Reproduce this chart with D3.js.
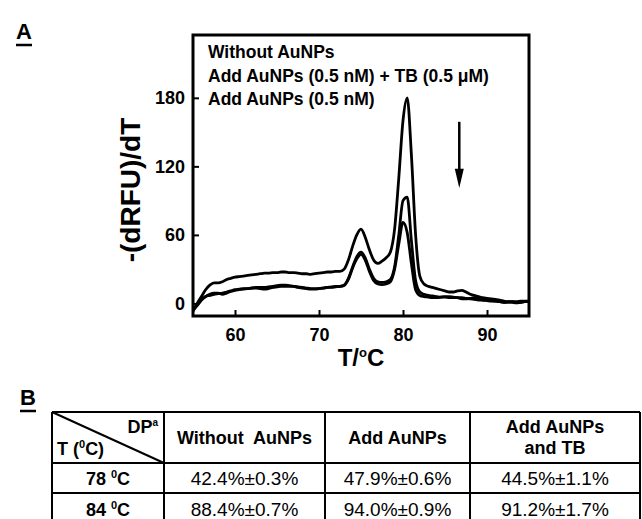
<!DOCTYPE html>
<html>
<head>
<meta charset="utf-8">
<script src="https://cdn.jsdelivr.net/npm/d3@7"></script>
<style>
  body { margin: 0; background: #fff; }
  svg { display: block; font-family: "Liberation Sans", Arial, sans-serif; }
  .bold { font-weight: bold; }
</style>
</head>
<body>
<svg id="fig" width="642" height="519"></svg>
<script>
// Melt curve samples (T in degC, every 0.5 degC)
const temps = [
  55, 55.5, 56, 56.5, 57, 57.5, 58, 58.5, 59, 59.5,
  60, 60.5, 61, 61.5, 62, 62.5, 63, 63.5, 64, 64.5,
  65, 65.5, 66, 66.5, 67, 67.5, 68, 68.5, 69, 69.5,
  70, 70.5, 71, 71.5, 72, 72.5, 73, 73.5, 74, 74.5,
  75, 75.5, 76, 76.5, 77, 77.5, 78, 78.5, 79, 79.5,
  80, 80.5, 81, 81.5, 82, 82.5, 83, 83.5, 84, 84.5,
  85, 85.5, 86, 86.5, 87, 87.5, 88, 88.5, 89, 89.5,
  90, 90.5, 91, 91.5, 92, 92.5, 93, 93.5, 94, 94.5,
  95
];

// -(dRFU)/dT for each condition
const withoutAuNPs = [
  -7, 0, 6, 12, 16, 18, 18, 19, 21, 22,
  23, 23.5, 24, 24.5, 25, 25.5, 26, 26.5, 26.5, 27,
  27, 27.5, 27.5, 27, 27, 26.5, 26, 26, 25.5, 26,
  26.5, 27, 27.5, 27.5, 28, 28, 30, 38, 50, 60,
  65, 58, 47, 38, 35, 37, 40, 45, 65, 110,
  160, 180, 130, 60, 24, 17, 15, 14, 13, 12,
  11, 10, 10, 11, 11.5, 10, 8, 7, 6, 5,
  4.5, 4, 3.5, 3, 2, 1.5, 1.5, 1, 1, 1.5,
  2
];

const addAuNPsTB = [
  -6, -2, 3, 6, 7, 8, 8.5, 9, 10, 11,
  12, 12.5, 13, 13, 13.5, 13.5, 13, 12.5, 13, 14,
  14.5, 15, 15, 15, 15, 14.5, 14, 13.5, 13, 13,
  13, 13.5, 14, 14.5, 15, 15, 16, 22, 32, 41,
  45, 40, 30, 22, 19, 18.5, 19, 21, 32, 60,
  90, 93, 55, 20, 10, 8, 7, 6.5, 6, 5.5,
  5.5, 5, 5, 5, 5, 4.5, 4, 3.5, 3, 3,
  3, 2.5, 2, 1.5, 1, 1.5, 1, 0.5, 1, 1.5,
  1.5
];

const addAuNPs = [
  -5, -1, 3, 6, 8, 9, 9, 8, 9, 10.5,
  11.5, 12, 12.5, 13, 13.5, 14, 14, 14, 14.5, 15,
  15.5, 16, 16, 15.5, 15, 14, 13.5, 13, 12.5, 12.5,
  13, 13.5, 14, 14, 14.5, 15, 16, 21, 31, 39,
  43, 38, 28, 20, 17, 16.5, 17, 19, 30, 52,
  71, 62, 35, 12, 7, 6, 5.5, 5, 5, 5.5,
  6, 6, 5.5, 5, 4, 4, 4.5, 5, 4, 3,
  2.5, 2, 2, 1.5, 1, 1, 1.5, 1.5, 2, 2,
  2
];

const legendLabels = ['Without AuNPs', 'Add AuNPs (0.5 nM) + TB (0.5 \u03bcM)', 'Add AuNPs (0.5 nM)'];
const xTicks = [60, 70, 80, 90];
const yTicks = [0, 60, 120, 180];

// Table B
const tableHeaders = [['Without  AuNPs'], ['Add AuNPs'], ['Add AuNPs', 'and TB']];
const tableTemps = ['78 ', '84 '];
const dp78 = ['42.4%\u00b10.3%', '47.9%\u00b10.6%', '44.5%\u00b11.1%'];
const dp84 = ['88.4%\u00b10.7%', '94.0%\u00b10.9%', '91.2%\u00b11.7%'];

const svg = d3.select('#fig');

// ---------- Panel A ----------
const margin = { top: 35, left: 193 };
const width = 336;
const height = 281;

const chart = svg.append('g')
  .attr('transform', `translate(${margin.left},${margin.top})`);

const xScale = d3.scaleLinear().domain([55, 95]).range([0, width]);
const yScale = d3.scaleLinear().domain([-11, 235]).range([height, 0]);

chart.append('clipPath').attr('id', 'plot-clip')
  .append('rect').attr('width', width).attr('height', height);

const line = d3.line()
  .x((d, i) => xScale(temps[i]))
  .y(d => yScale(d))
  .curve(d3.curveMonotoneX);

chart.append('g').attr('clip-path', 'url(#plot-clip)')
  .selectAll('path')
  .data([withoutAuNPs, addAuNPsTB, addAuNPs])
  .enter().append('path')
  .attr('d', line)
  .attr('fill', 'none')
  .attr('stroke', '#000')
  .attr('stroke-width', 2.8)
  .attr('stroke-linejoin', 'round');

// axes (ticks point inward)
const xAxis = chart.append('g')
  .attr('transform', `translate(0,${height})`)
  .call(d3.axisBottom(xScale).tickValues(xTicks).tickSize(-6).tickPadding(12));
const yAxis = chart.append('g')
  .call(d3.axisLeft(yScale).tickValues(yTicks).tickSize(-6).tickPadding(10));

[xAxis, yAxis].forEach(ax => {
  ax.select('.domain').remove();
  ax.selectAll('line').attr('stroke', '#000').attr('stroke-width', 2);
  ax.selectAll('text')
    .attr('font-family', '"Liberation Sans", Arial, sans-serif')
    .attr('font-size', 18)
    .attr('font-weight', 'bold')
    .attr('fill', '#000');
});
yAxis.selectAll('text').attr('x', -8);

// frame
chart.append('rect')
  .attr('width', width).attr('height', height)
  .attr('fill', 'none').attr('stroke', '#000').attr('stroke-width', 3);

// legend text
chart.selectAll('.legend')
  .data(legendLabels)
  .enter().append('text')
  .attr('class', 'legend bold')
  .attr('x', 15)
  .attr('y', (d, i) => 23 + i * 23.5)
  .attr('font-size', 17.5)
  .text(d => d);

// downward arrow
const arrowX = xScale(86.7);
chart.append('line')
  .attr('x1', arrowX).attr('x2', arrowX)
  .attr('y1', yScale(159)).attr('y2', yScale(112))
  .attr('stroke', '#000').attr('stroke-width', 2.5);
chart.append('path')
  .attr('d', `M${arrowX - 4.5},${yScale(118)} L${arrowX + 4.5},${yScale(118)} L${arrowX},${yScale(101)} Z`)
  .attr('fill', '#000');

// axis titles
svg.append('text')
  .attr('class', 'bold')
  .attr('transform', 'translate(140,190) rotate(-90)')
  .attr('text-anchor', 'middle')
  .attr('font-size', 28)
  .text('-(dRFU)/dT');

const xt = svg.append('text')
  .attr('class', 'bold')
  .attr('x', 361).attr('y', 366)
  .attr('text-anchor', 'middle')
  .attr('font-size', 24);
xt.append('tspan').text('T/');
xt.append('tspan').attr('font-size', 13).attr('dy', -9).text('o');
xt.append('tspan').attr('dy', 9).text('C');

// panel letters
function panelLetter(txt, x, y) {
  svg.append('text').attr('class', 'bold')
    .attr('x', x).attr('y', y).attr('font-size', 22).text(txt);
  svg.append('line')
    .attr('x1', x).attr('x2', x + 16)
    .attr('y1', y + 6).attr('y2', y + 6)
    .attr('stroke', '#000').attr('stroke-width', 2.5);
}
panelLetter('A', 16, 39);
panelLetter('B', 20, 405);

// ---------- Panel B (table) ----------
const colEdges = [52, 164, 325, 470, 640];
const rowEdges = [412, 463, 493, 524];
const table = svg.append('g');

// cell grid
table.selectAll('.vline')
  .data(colEdges)
  .enter().append('line')
  .attr('x1', d => d).attr('x2', d => d)
  .attr('y1', rowEdges[0]).attr('y2', rowEdges[3])
  .attr('stroke', '#000').attr('stroke-width', 2);
table.selectAll('.hline')
  .data(rowEdges)
  .enter().append('line')
  .attr('x1', colEdges[0]).attr('x2', colEdges[4])
  .attr('y1', d => d).attr('y2', d => d)
  .attr('stroke', '#000').attr('stroke-width', 2);

// diagonal header cell
table.append('line')
  .attr('x1', colEdges[0]).attr('y1', rowEdges[0])
  .attr('x2', colEdges[1]).attr('y2', rowEdges[1])
  .attr('stroke', '#000').attr('stroke-width', 2);

const dpLabel = table.append('text').attr('class', 'bold')
  .attr('x', colEdges[1] - 6).attr('y', 433)
  .attr('text-anchor', 'end').attr('font-size', 18);
dpLabel.append('tspan').text('DP');
dpLabel.append('tspan').attr('font-size', 10).attr('dy', -7).text('a');

const tLabel = table.append('text').attr('class', 'bold')
  .attr('x', colEdges[0] + 5).attr('y', 455).attr('font-size', 18);
tLabel.append('tspan').text('T (');
tLabel.append('tspan').attr('font-size', 11).attr('dy', -7).text('0');
tLabel.append('tspan').attr('dy', 7).text('C)');

// column headers
tableHeaders.forEach((lines, j) => {
  const cx = (colEdges[j + 1] + colEdges[j + 2]) / 2;
  const startY = lines.length === 1 ? 444 : 433;
  const t = table.append('text').attr('class', 'bold')
    .attr('text-anchor', 'middle').attr('font-size', 18)
    .style('white-space', 'pre');
  lines.forEach((l, k) => {
    t.append('tspan').attr('x', cx).attr('y', startY + k * 21).text(l);
  });
});

// row labels
tableTemps.forEach((label, i) => {
  const cy = (rowEdges[i + 1] + rowEdges[i + 2]) / 2 + 7;
  const t = table.append('text').attr('class', 'bold')
    .attr('x', (colEdges[0] + colEdges[1]) / 2).attr('y', cy)
    .attr('text-anchor', 'middle').attr('font-size', 18)
    .style('white-space', 'pre');
  t.append('tspan').text(label);
  t.append('tspan').attr('font-size', 11).attr('dy', -7).text('0');
  t.append('tspan').attr('dy', 7).text('C');
});

// values
[dp78, dp84].forEach((row, i) => {
  const cy = (rowEdges[i + 1] + rowEdges[i + 2]) / 2 + 7;
  table.selectAll(null)
    .data(row)
    .enter().append('text')
    .attr('x', (d, j) => (colEdges[j + 1] + colEdges[j + 2]) / 2)
    .attr('y', cy)
    .attr('text-anchor', 'middle')
    .attr('font-size', 19)
    .text(d => d);
});
</script>
</body>
</html>
